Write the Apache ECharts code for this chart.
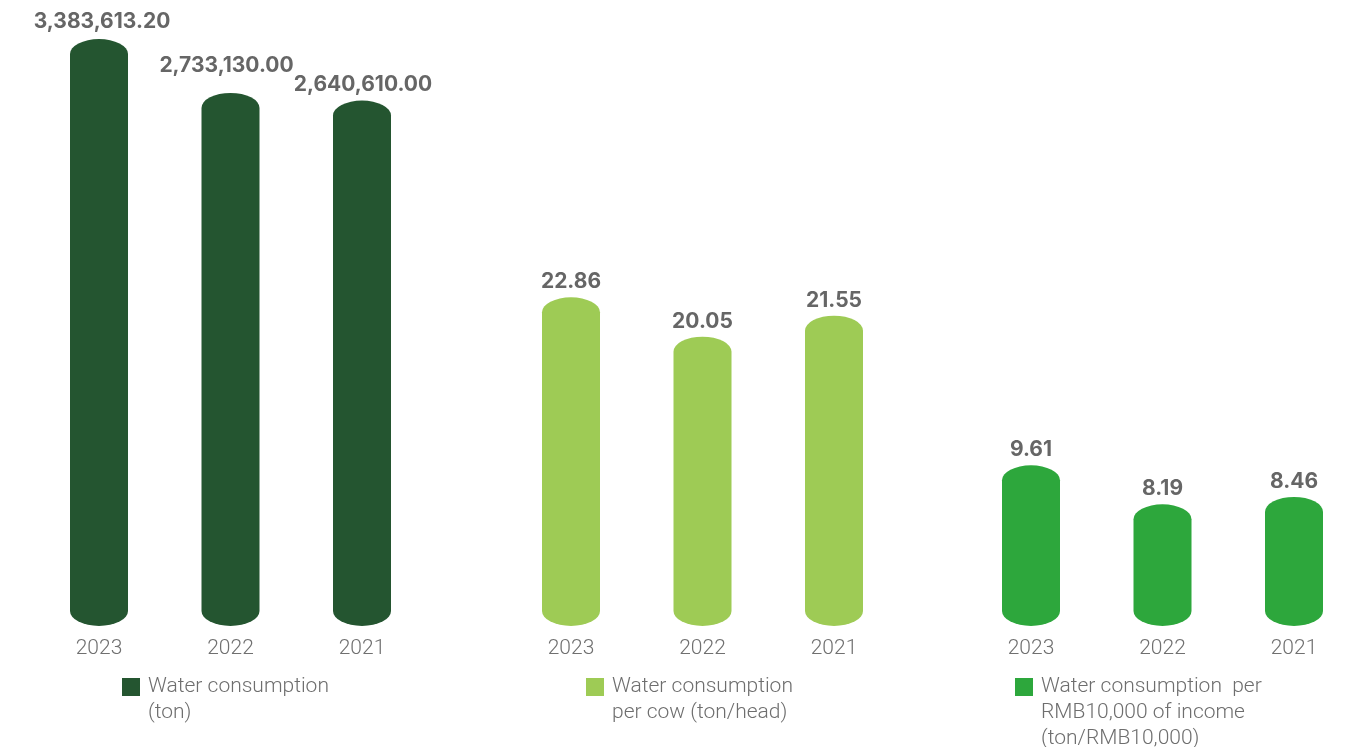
<!DOCTYPE html>
<html>
<head>
<meta charset="utf-8">
<script src="https://cdn.jsdelivr.net/npm/echarts@6/dist/echarts.min.js"></script>
<style>
html,body{margin:0;padding:0;background:#fff;}
#chart{width:1347px;height:747px;}
</style>
</head>
<body>
<div id="chart"></div>
<script>
// ---- data ----
const years = ['2023', '2022', '2021'];
const waterTotal = [3383613.20, 2733130.00, 2640610.00];
const waterPerCow = [22.86, 20.05, 21.55];
const waterPerIncome = [9.61, 8.19, 8.46];
const seriesNames = [
  'Water consumption\n(ton)',
  'Water consumption\nper cow (ton/head)',
  'Water consumption  per\nRMB10,000 of income\n(ton/RMB10,000)'
];
const colors = ['#245530', '#9ecb55', '#2da73c'];

// ---- layout ----
const gridLefts = [99, 571, 1031];
const gridWidth = 263;
const gridTop = 39;
const gridBottomY = 626;
const axisRanges = [
  [-3700000, 3383613.2],
  [-0.6, 41.3],
  [3.77, 25.1]
];
const BAR_W = 58, CAP_RY = 15;
// label nudges to avoid overlapping neighbouring labels (group-index)
const labelNudge = { '0-1': [-4, -12], '0-2': [1, 0], '0-0': [3, -2] };

function fmt(v, gi) {
  if (gi === 0) return v.toLocaleString('en-US', {minimumFractionDigits: 2, maximumFractionDigits: 2});
  return v.toFixed(2);
}

function makeRender(gi) {
  return function (params, api) {
    const val = api.value(1);
    const pt = api.coord([api.value(0), val]);
    const cs = params.coordSys;
    const b = cs.y + cs.height;
    const x = pt[0], t = pt[1];
    const rx = BAR_W / 2, ry = CAP_RY;
    const d = 'M' + (x - rx) + ' ' + (t + ry) +
      ' A' + rx + ' ' + ry + ' 0 0 1 ' + (x + rx) + ' ' + (t + ry) +
      ' L' + (x + rx) + ' ' + (b - ry) +
      ' A' + rx + ' ' + ry + ' 0 0 1 ' + (x - rx) + ' ' + (b - ry) + ' Z';
    const nudge = labelNudge[gi + '-' + params.dataIndex] || [0, 0];
    return {
      type: 'path',
      shape: { pathData: d },
      style: { fill: colors[gi] },
      textContent: {
        style: {
          text: fmt(val, gi),
          fill: '#666666',
          fontFamily: 'Inter, sans-serif',
          fontWeight: 'bold',
          fontSize: 21
        }
      },
      textConfig: { position: 'top', distance: 5, offset: nudge }
    };
  };
}

const dataSets = [waterTotal, waterPerCow, waterPerIncome];
const legendLefts = [122, 586, 1015];
const LH = 26;
const ICON_CY = 687;

function lineCount(s) { return s.split('\n').length; }

const option = {
  backgroundColor: '#ffffff',
  animation: false,
  grid: gridLefts.map(l => ({ left: l, width: gridWidth, top: gridTop, height: gridBottomY - gridTop })),
  xAxis: gridLefts.map((l, i) => ({
    type: 'category', gridIndex: i, data: years, boundaryGap: false,
    axisLine: { show: false }, axisTick: { show: false },
    axisLabel: { color: '#707070', fontSize: 21, fontFamily: 'Roboto, sans-serif', fontWeight: 300, margin: 12 }
  })),
  yAxis: axisRanges.map((r, i) => ({
    type: 'value', gridIndex: i, min: r[0], max: r[1], show: false,
    splitLine: { show: false }
  })),
  legend: seriesNames.map((n, i) => {
    const nl = lineCount(n);
    return {
      data: [n],
      left: legendLefts[i],
      top: ICON_CY - (2 * nl - 1) * LH / 2,
      orient: 'vertical',
      icon: 'rect',
      itemWidth: 18,
      itemHeight: 18,
      padding: 0,
      selectedMode: false,
      // prepend blank lines so the icon lines up with the first text line
      formatter: name => '\n'.repeat(lineCount(name) - 1) + name,
      textStyle: {
        color: '#6e6e6e', fontSize: 21, fontFamily: 'Roboto, sans-serif', fontWeight: 300,
        lineHeight: LH, padding: [0, 0, 0, 3]
      }
    };
  }),
  series: dataSets.map((arr, i) => ({
    type: 'custom',
    name: seriesNames[i],
    xAxisIndex: i, yAxisIndex: i,
    itemStyle: { color: colors[i] },
    renderItem: makeRender(i),
    data: arr.map((v, j) => [j, v])
  }))
};

const chart = echarts.init(document.getElementById('chart'));
chart.setOption(option);
</script>
</body>
</html>
